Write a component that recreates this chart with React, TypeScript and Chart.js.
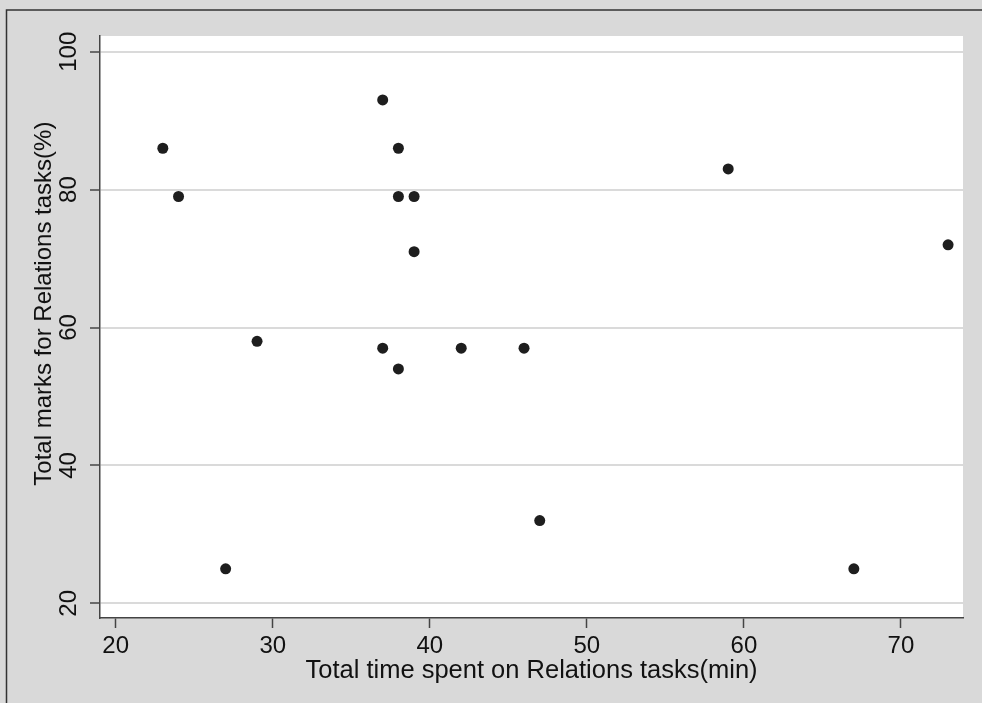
import React, { useEffect, useRef } from "react";
import { Chart, registerables } from "chart.js";

Chart.register(...registerables);

const timeSpent = [23, 24, 27, 29, 37, 37, 38, 38, 38, 39, 39, 42, 46, 47, 59, 67, 73];
const marks = [86, 79, 25, 58, 93, 57, 86, 79, 54, 79, 71, 57, 57, 32, 83, 25, 72];
const xTicks = [20, 30, 40, 50, 60, 70];
const yTicks = [20, 40, 60, 80, 100];
const xTitle = "Total time spent on Relations tasks(min)";
const yTitle = "Total marks for Relations tasks(%)";

const FONT = "'Liberation Sans', Arial, Helvetica, sans-serif";

const bgPlugin = {
  id: "bgPanel",
  beforeDraw(chart: any) {
    const { ctx, chartArea, width, height } = chart;
    ctx.save();
    ctx.fillStyle = "#d9d9d9";
    ctx.fillRect(0, 0, width, height);
    ctx.fillStyle = "#ffffff";
    ctx.fillRect(
      chartArea.left,
      chartArea.top,
      chartArea.right - chartArea.left,
      chartArea.bottom - chartArea.top
    );
    ctx.strokeStyle = "#333333";
    ctx.lineWidth = 1.5;
    ctx.beginPath();
    ctx.moveTo(6.5, height);
    ctx.lineTo(6.5, 10);
    ctx.lineTo(width, 10);
    ctx.stroke();
    ctx.restore();
  },
};

export default function App() {
  const ref = useRef<HTMLCanvasElement | null>(null);

  useEffect(() => {
    if (!ref.current) return;
    const chart = new Chart(ref.current, {
      type: "scatter",
      data: {
        datasets: [
          {
            data: timeSpent.map((x, i) => ({ x, y: marks[i] })),
            pointRadius: 5.5,
            pointHoverRadius: 5.5,
            pointBackgroundColor: "#1e1e1e",
            pointBorderWidth: 0,
            borderWidth: 0,
          },
        ],
      },
      options: {
        responsive: false,
        animation: false,
        layout: { padding: { top: 36, right: 19, left: 0, bottom: 0 } },
        plugins: {
          legend: { display: false },
          tooltip: { enabled: false },
        },
        scales: {
          x: {
            type: "linear",
            min: 19,
            max: 73.95,
            afterBuildTicks: (s: any) => {
              s.ticks = xTicks.map((v) => ({ value: v }));
            },
            afterFit: (s: any) => {
              s.height = 85;
            },
            ticks: {
              autoSkip: false,
              maxRotation: 0,
              padding: 4,
              color: "#111111",
              font: { family: FONT, size: 24 },
            },
            grid: {
              drawOnChartArea: false,
              drawTicks: true,
              tickLength: 10,
              tickColor: "#444444",
              tickWidth: 1.5,
            },
            border: { display: true, color: "#444444", width: 1.5 },
            title: {
              display: true,
              text: xTitle,
              color: "#111111",
              font: { family: FONT, size: 25.5 },
              padding: { top: 0, bottom: 17 },
            },
          },
          y: {
            type: "linear",
            min: 17.87,
            max: 102.28,
            afterBuildTicks: (s: any) => {
              s.ticks = yTicks.map((v) => ({ value: v }));
            },
            afterFit: (s: any) => {
              s.width = 100;
            },
            ticks: {
              autoSkip: false,
              minRotation: 90,
              maxRotation: 90,
              crossAlign: "center",
              padding: 1,
              color: "#111111",
              font: { family: FONT, size: 24 },
            },
            grid: {
              color: "#dadada",
              lineWidth: 2,
              drawTicks: true,
              tickLength: 10,
              tickColor: "#444444",
              tickWidth: 1.5,
            },
            border: { display: true, color: "#444444", width: 1.5 },
            title: {
              display: true,
              text: "       " + yTitle,
              color: "#111111",
              font: { family: FONT, size: 24 },
              padding: { top: 30, bottom: 0 },
            },
          },
        },
      },
      plugins: [bgPlugin],
    });
    return () => chart.destroy();
  }, []);

  return (
    <div style={{ position: "absolute", left: 0, top: 0, width: 982, height: 703 }}>
      <canvas ref={ref} width={982} height={703} style={{ display: "block" }} />
    </div>
  );
}
